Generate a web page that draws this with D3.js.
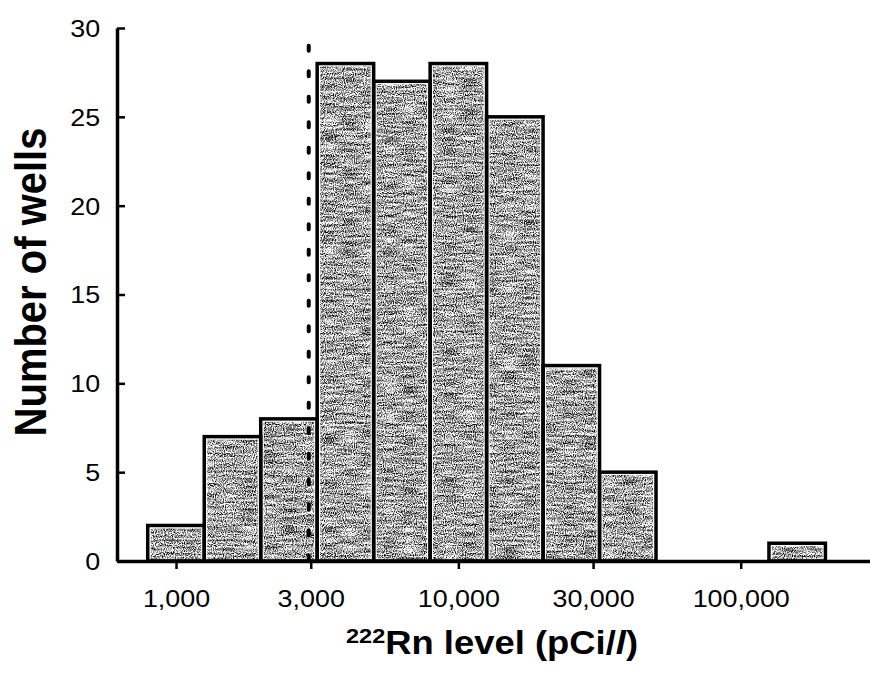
<!DOCTYPE html>
<html>
<head>
<meta charset="utf-8">
<script src="https://cdn.jsdelivr.net/npm/d3@7"></script>
<style>
  body { margin: 0; background: #fff; }
  svg { display: block; }
  text { font-family: "Liberation Sans", Arial, sans-serif; fill: #000; }
</style>
</head>
<body>
<div id="viz"></div>
<script>
// bin edges (pCi/l), log spaced histogram
var binEdges = [794, 1259, 1995, 3162, 5012, 7943, 12589, 19953, 31623, 50119, 79433, 125893, 199526];
var wellCounts = [2, 7, 8, 28, 27, 28, 25, 11, 5, 0, 0, 1];
var xTicks = [1000, 3000, 10000, 30000, 100000];
var xTickLabels = ["1,000", "3,000", "10,000", "30,000", "100,000"];
var yTicks = [0, 5, 10, 15, 20, 25, 30];
var cutoff = 3000;     // dotted reference line
var cutoffTop = 29;

var width = 870, height = 688;

var bins = wellCounts.map(function(d, i){
    return {lo: binEdges[i], hi: binEdges[i+1], n: d};
});

var svg = d3.select("#viz")
    .append("svg")
    .attr("width", width)
    .attr("height", height);

// speckled scan-like grey fill
var defs = svg.append("defs");
var f = defs.append("filter")
    .attr("id", "grain")
    .attr("x", 0).attr("y", 0).attr("width", 1).attr("height", 1)
    .attr("color-interpolation-filters", "sRGB");
f.append("feTurbulence")
    .attr("type", "fractalNoise").attr("baseFrequency", "0.9 0.9")
    .attr("numOctaves", 1).attr("seed", 3).attr("result", "fine");
f.append("feColorMatrix").attr("in", "fine").attr("type", "matrix")
    .attr("values", "1 0 0 0 0  1 0 0 0 0  1 0 0 0 0  0 0 0 0 1")
    .attr("result", "fine2");
f.append("feTurbulence")
    .attr("type", "fractalNoise").attr("baseFrequency", "0.05 0.45")
    .attr("numOctaves", 1).attr("seed", 8).attr("result", "streak");
f.append("feColorMatrix").attr("in", "streak").attr("type", "matrix")
    .attr("values", "1 0 0 0 0  1 0 0 0 0  1 0 0 0 0  0 0 0 0 1")
    .attr("result", "streak2");
f.append("feComposite").attr("in", "fine2").attr("in2", "streak2")
    .attr("operator", "arithmetic")
    .attr("k1", 0).attr("k2", 0.8).attr("k3", 0.4).attr("k4", -0.1)
    .attr("result", "mix");
f.append("feColorMatrix").attr("in", "mix").attr("type", "matrix")
    .attr("values", "-3.2 0 0 0 2.25  -3.2 0 0 0 2.25  -3.2 0 0 0 2.25  0 0 0 0 1")
    .attr("result", "grey");
f.append("feComposite").attr("in", "grey").attr("in2", "SourceAlpha").attr("operator", "in");

var x = d3.scaleLog()
    .domain([618, 287000])
    .range([117, 870]);

var y = d3.scaleLinear()
    .domain([0, 30])
    .range([561, 28]);

// bars: textured fill, then outline on top
var bar = svg.append("g").selectAll("g")
    .data(bins.filter(function(d){ return d.n > 0; }))
    .enter().append("g");

bar.append("rect")
    .attr("x", function(d){ return x(d.lo) + 3; })
    .attr("y", function(d){ return y(d.n) + 3; })
    .attr("width", function(d){ return x(d.hi) - x(d.lo) - 6; })
    .attr("height", function(d){ return y(0) - y(d.n) - 3; })
    .style("fill", "#999")
    .attr("filter", "url(#grain)");

bar.append("rect")
    .attr("x", function(d){ return x(d.lo); })
    .attr("y", function(d){ return y(d.n); })
    .attr("width", function(d){ return x(d.hi) - x(d.lo); })
    .attr("height", function(d){ return y(0) - y(d.n); })
    .style("fill", "none")
    .style("stroke", "#000")
    .style("stroke-width", 3.5);

// dotted cutoff line at 3,000
svg.append("line")
    .attr("x1", x(cutoff) - 2).attr("x2", x(cutoff) - 2)
    .attr("y1", y(cutoffTop)).attr("y2", y(0))
    .style("stroke", "#000")
    .style("stroke-width", 4)
    .style("stroke-linecap", "round")
    .style("stroke-dasharray", "5 20.5");

// axes
var xAxis = d3.axisBottom(x)
    .tickValues(xTicks)
    .tickFormat(function(d, i){ return xTickLabels[i]; })
    .tickSizeInner(8)
    .tickSizeOuter(0);

var gx = svg.append("g")
    .attr("transform", "translate(0," + y(0) + ")")
    .call(xAxis);
gx.select(".domain").style("stroke-width", 3.5);
gx.selectAll(".tick line").style("stroke-width", 2.5);
gx.selectAll(".tick text")
    .attr("y", 46).attr("dy", null)
    .attr("transform", "scale(1.12,1)")
    .style("font-size", "24px");

var yAxis = d3.axisLeft(y)
    .tickValues(yTicks)
    .tickSizeInner(-8)
    .tickSizeOuter(0)
    .tickPadding(15);

var gy = svg.append("g")
    .attr("transform", "translate(117,0)")
    .call(yAxis);
gy.select(".domain").style("stroke-width", 3.5);
gy.selectAll(".tick line").style("stroke-width", 2.5);
gy.selectAll(".tick text")
    .attr("dy", "0.35em")
    .attr("transform", "scale(1.12,1)")
    .style("font-size", "24px");

// axis titles
var xt = svg.append("text")
    .attr("transform", "translate(492,654) scale(1.12,1)")
    .attr("text-anchor", "middle")
    .style("font-size", "32.5px")
    .style("font-weight", "bold");
xt.append("tspan").attr("dy", -11).style("font-size", "21px").text("222");
xt.append("tspan").attr("dy", 11).text("Rn level (pCi/");
xt.append("tspan").style("font-style", "italic").text("l");
xt.append("tspan").text(")");

svg.append("text")
    .attr("transform", "translate(46,282) scale(1.12,1) rotate(-90)")
    .attr("text-anchor", "middle")
    .style("font-size", "40px")
    .style("font-weight", "bold")
    .text("Number of wells");
</script>
</body>
</html>
